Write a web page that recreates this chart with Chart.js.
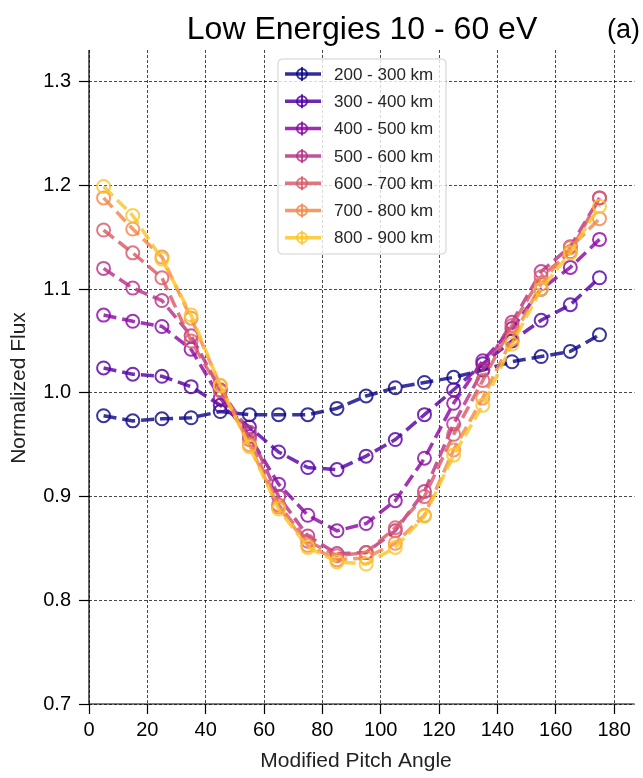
<!DOCTYPE html>
<html>
<head>
<meta charset="utf-8">
<script src="https://cdn.jsdelivr.net/npm/chart.js@4.4.1/dist/chart.umd.min.js"></script>
<style>
  html, body { margin: 0; padding: 0; background: #fff; }
  #wrap { width: 643px; height: 778px; position: relative; }
</style>
</head>
<body>
<div id="wrap"><canvas id="chart" width="643" height="778"></canvas></div>
<script>
// pitch angle bins (centres)
const angles = [5, 15, 25, 35, 45, 55, 65, 75, 85, 95, 105, 115, 125, 135, 145, 155, 165, 175];

// normalized flux per altitude band
const flux200 = [0.978, 0.973, 0.975, 0.976, 0.982, 0.979, 0.979, 0.979, 0.985, 0.997, 1.005, 1.010, 1.015, 1.022, 1.030, 1.035, 1.040, 1.056];
const flux300 = [1.024, 1.018, 1.016, 1.006, 0.988, 0.967, 0.943, 0.928, 0.926, 0.939, 0.955, 0.979, 1.003, 1.028, 1.050, 1.070, 1.085, 1.111];
const flux400 = [1.075, 1.069, 1.064, 1.042, 0.995, 0.958, 0.912, 0.882, 0.867, 0.874, 0.896, 0.937, 0.990, 1.031, 1.062, 1.100, 1.121, 1.148];
const flux500 = [1.120, 1.101, 1.089, 1.055, 1.003, 0.962, 0.900, 0.862, 0.845, 0.846, 0.867, 0.905, 0.970, 1.022, 1.068, 1.117, 1.141, 1.188];
const flux600 = [1.157, 1.135, 1.111, 1.050, 1.002, 0.955, 0.892, 0.857, 0.843, 0.846, 0.870, 0.900, 0.960, 1.012, 1.065, 1.112, 1.136, 1.188];
const flux700 = [1.188, 1.158, 1.131, 1.072, 1.007, 0.950, 0.890, 0.853, 0.839, 0.841, 0.855, 0.882, 0.945, 0.995, 1.052, 1.105, 1.140, 1.168];
const flux800 = [1.199, 1.171, 1.129, 1.075, 1.007, 0.948, 0.888, 0.851, 0.837, 0.835, 0.851, 0.881, 0.940, 0.988, 1.047, 1.100, 1.135, 1.180];

const bandLabels = ['200 - 300 km', '300 - 400 km', '400 - 500 km', '500 - 600 km', '600 - 700 km', '700 - 800 km', '800 - 900 km'];
const bandColors = ['#0d0887', '#5402a3', '#8b0aa5', '#b93289', '#db5c68', '#f48849', '#fdc527'];
const allFlux = [flux200, flux300, flux400, flux500, flux600, flux700, flux800];

const xTicks = [0, 20, 40, 60, 80, 100, 120, 140, 160, 180];
const yTicks = [0.7, 0.8, 0.9, 1.0, 1.1, 1.2, 1.3];

const FONT = '"Liberation Sans", Arial, sans-serif';

function withAlpha(hex, a) {
    const n = parseInt(hex.slice(1), 16);
    return `rgba(${(n >> 16) & 255}, ${(n >> 8) & 255}, ${n & 255}, ${a})`;
}

const datasets = allFlux.map((vals, i) => ({
    label: bandLabels[i],
    data: angles.map((a, k) => ({ x: a, y: vals[k] })),
    borderColor: withAlpha(bandColors[i], 0.82),
    borderWidth: 3.5,
    borderDash: [13, 6],
    pointStyle: 'circle',
    pointRadius: 6.5,
    pointBorderWidth: 2,
    pointBorderColor: withAlpha(bandColors[i], 0.82),
    pointBackgroundColor: 'rgba(0,0,0,0)',
    tension: 0,
    order: allFlux.length - i   // later bands drawn on top
}));

// spines, title, axis titles and the framed legend
const decorPlugin = {
    id: 'decor',
    afterDraw(chart) {
        const ctx = chart.ctx;
        const area = chart.chartArea;
        ctx.save();
        ctx.strokeStyle = '#000';
        ctx.lineWidth = 1.2;
        ctx.beginPath();
        ctx.moveTo(area.left, area.top);
        ctx.lineTo(area.left, area.bottom);
        ctx.lineTo(area.right, area.bottom);
        ctx.stroke();

        ctx.fillStyle = '#000';
        ctx.textBaseline = 'alphabetic';
        ctx.font = '32px ' + FONT;
        ctx.textAlign = 'center';
        ctx.fillText('Low Energies 10 - 60 eV', 362, 39);
        ctx.font = '27px ' + FONT;
        ctx.textAlign = 'left';
        ctx.fillText('(a)', 607, 38);

        ctx.font = '21px ' + FONT;
        ctx.fillStyle = '#222';
        ctx.textAlign = 'center';
        ctx.fillText('Modified Pitch Angle', 356, 767);
        ctx.save();
        ctx.translate(25, 388);
        ctx.rotate(-Math.PI / 2);
        ctx.fillText('Normalized Flux', 0, 0);
        ctx.restore();

        // legend box
        const bx = 278, by = 59, bw = 168, bh = 195, r = 4;
        ctx.beginPath();
        ctx.moveTo(bx + r, by);
        ctx.arcTo(bx + bw, by, bx + bw, by + bh, r);
        ctx.arcTo(bx + bw, by + bh, bx, by + bh, r);
        ctx.arcTo(bx, by + bh, bx, by, r);
        ctx.arcTo(bx, by, bx + bw, by, r);
        ctx.closePath();
        ctx.fillStyle = 'rgba(255,255,255,0.8)';
        ctx.fill();
        ctx.strokeStyle = '#d0d0d0';
        ctx.lineWidth = 1;
        ctx.stroke();

        ctx.font = '17px ' + FONT;
        ctx.textAlign = 'left';
        ctx.textBaseline = 'middle';
        bandLabels.forEach((lab, i) => {
            const y = 74 + i * 27.3;
            const col = withAlpha(bandColors[i], 0.85);
            ctx.strokeStyle = col;
            ctx.lineWidth = 3.5;
            ctx.beginPath();
            ctx.moveTo(285, y);
            ctx.lineTo(321, y);
            ctx.stroke();
            ctx.lineWidth = 2;
            ctx.beginPath();
            ctx.arc(302, y, 5, 0, Math.PI * 2);
            ctx.stroke();
            ctx.beginPath();
            ctx.moveTo(302, y - 7);
            ctx.lineTo(302, y + 7);
            ctx.stroke();
            ctx.fillStyle = '#262626';
            ctx.fillText(lab, 334, y + 1);
        });
        ctx.restore();
    }
};

const gridOpts = {
    color: 'rgba(0,0,0,0.8)',
    lineWidth: 0.9,
    tickLength: 10,
    tickColor: '#000',
    tickWidth: 1.2
};

new Chart(document.getElementById('chart'), {
    type: 'line',
    data: { datasets: datasets },
    options: {
        responsive: false,
        animation: false,
        layout: { padding: { top: 50, right: 0, left: 0, bottom: 0 } },
        plugins: {
            legend: { display: false },
            tooltip: { enabled: false },
            title: { display: false }
        },
        scales: {
            x: {
                type: 'linear',
                min: 0,
                max: 187,
                afterFit: scale => { scale.height = 74; },
                afterBuildTicks: scale => { scale.ticks = xTicks.map(v => ({ value: v })); },
                grid: gridOpts,
                border: { display: false, dash: [3, 2] },
                ticks: {
                    color: '#000',
                    padding: 4,
                    maxRotation: 0,
                    autoSkip: false,
                    font: { family: FONT, size: 20 },
                    callback: v => String(v)
                }
            },
            y: {
                type: 'linear',
                min: 0.7,
                max: 1.3306,
                afterFit: scale => { scale.width = 89; },
                afterBuildTicks: scale => { scale.ticks = yTicks.map(v => ({ value: v })); },
                grid: gridOpts,
                border: { display: false, dash: [3, 2] },
                ticks: {
                    color: '#000',
                    padding: 8,
                    autoSkip: false,
                    font: { family: FONT, size: 20 },
                    callback: v => v.toFixed(1)
                }
            }
        }
    },
    plugins: [decorPlugin]
});
</script>
</body>
</html>
